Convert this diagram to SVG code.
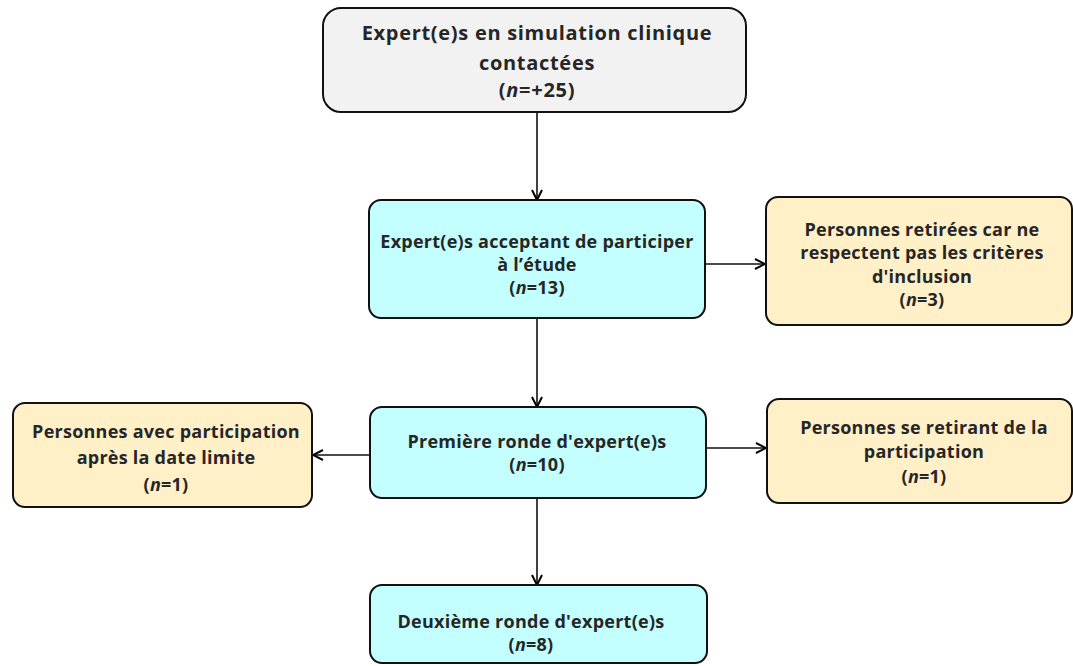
<svg xmlns="http://www.w3.org/2000/svg" width="1073" height="666" viewBox="0 0 1073 666">
<defs>
<marker id="arr" viewBox="0 0 12 12" refX="11" refY="6" markerWidth="12" markerHeight="12" markerUnits="userSpaceOnUse" orient="auto">
<path d="M1,1 L11,6 L1,11" fill="none" stroke="#000" stroke-width="2"/>
</marker>
</defs>
<style>
.box{stroke:#111;stroke-width:2}
.grey{fill:#f2f2f2}
.cyan{fill:#c3ffff}
.beige{fill:#fff0c8}
text{font-family:"Open Sans","Liberation Sans",sans-serif;font-weight:700;font-size:18px;letter-spacing:0.25px;fill:#262626;text-anchor:middle}
.big{font-size:20px;letter-spacing:0.7px}
.edge{stroke:#111;stroke-width:1.6;fill:none;marker-end:url(#arr)}
</style>
<rect width="1073" height="666" fill="#fff"/>
<g id="connectors">
<line class="edge" x1="537" y1="112" x2="537" y2="200"/>
<line class="edge" x1="537" y1="318" x2="537" y2="407"/>
<line class="edge" x1="537" y1="498" x2="537" y2="585"/>
<line class="edge" x1="705" y1="264" x2="765" y2="264"/>
<line class="edge" x1="707" y1="448" x2="766" y2="448"/>
<line class="edge" x1="370" y1="455" x2="313" y2="455"/>
</g>
<g id="n1">
<rect class="box grey" x="323" y="8" width="423" height="104" rx="18"/>
<text class="big" x="537" y="40">Expert(e)s en simulation clinique</text>
<text class="big" x="537" y="70">contactées</text>
<text class="big" x="537" y="97">(<tspan font-style="italic">n</tspan>=+25)</text>
</g>
<g id="n2">
<rect class="box cyan" x="369" y="200" width="336" height="118" rx="12"/>
<text x="537" y="248">Expert(e)s acceptant de participer</text>
<text x="537" y="271">à l’étude</text>
<text x="537" y="294">(<tspan font-style="italic">n</tspan>=13)</text>
</g>
<g id="n3">
<rect class="box beige" x="766" y="197" width="306" height="128" rx="12"/>
<text x="922" y="236">Personnes retirées car ne</text>
<text x="922" y="259">respectent pas les critères</text>
<text x="922" y="283">d'inclusion</text>
<text x="922" y="306">(<tspan font-style="italic">n</tspan>=3)</text>
</g>
<g id="n4">
<rect class="box beige" x="13" y="403" width="299" height="104" rx="12"/>
<text x="166" y="438">Personnes avec participation</text>
<text x="166" y="464">après la date limite</text>
<text x="166" y="491">(<tspan font-style="italic">n</tspan>=1)</text>
</g>
<g id="n5">
<rect class="box cyan" x="370" y="407" width="336" height="91" rx="12"/>
<text x="537" y="448">Première ronde d'expert(e)s</text>
<text x="537" y="471">(<tspan font-style="italic">n</tspan>=10)</text>
</g>
<g id="n6">
<rect class="box beige" x="767" y="399" width="305" height="104" rx="12"/>
<text x="924" y="434">Personnes se retirant de la</text>
<text x="924" y="458">participation</text>
<text x="924" y="483">(<tspan font-style="italic">n</tspan>=1)</text>
</g>
<g id="n7">
<rect class="box cyan" x="370" y="585" width="337" height="78" rx="12"/>
<text x="531" y="628">Deuxième ronde d'expert(e)s</text>
<text x="531" y="651">(<tspan font-style="italic">n</tspan>=8)</text>
</g>
</svg>
